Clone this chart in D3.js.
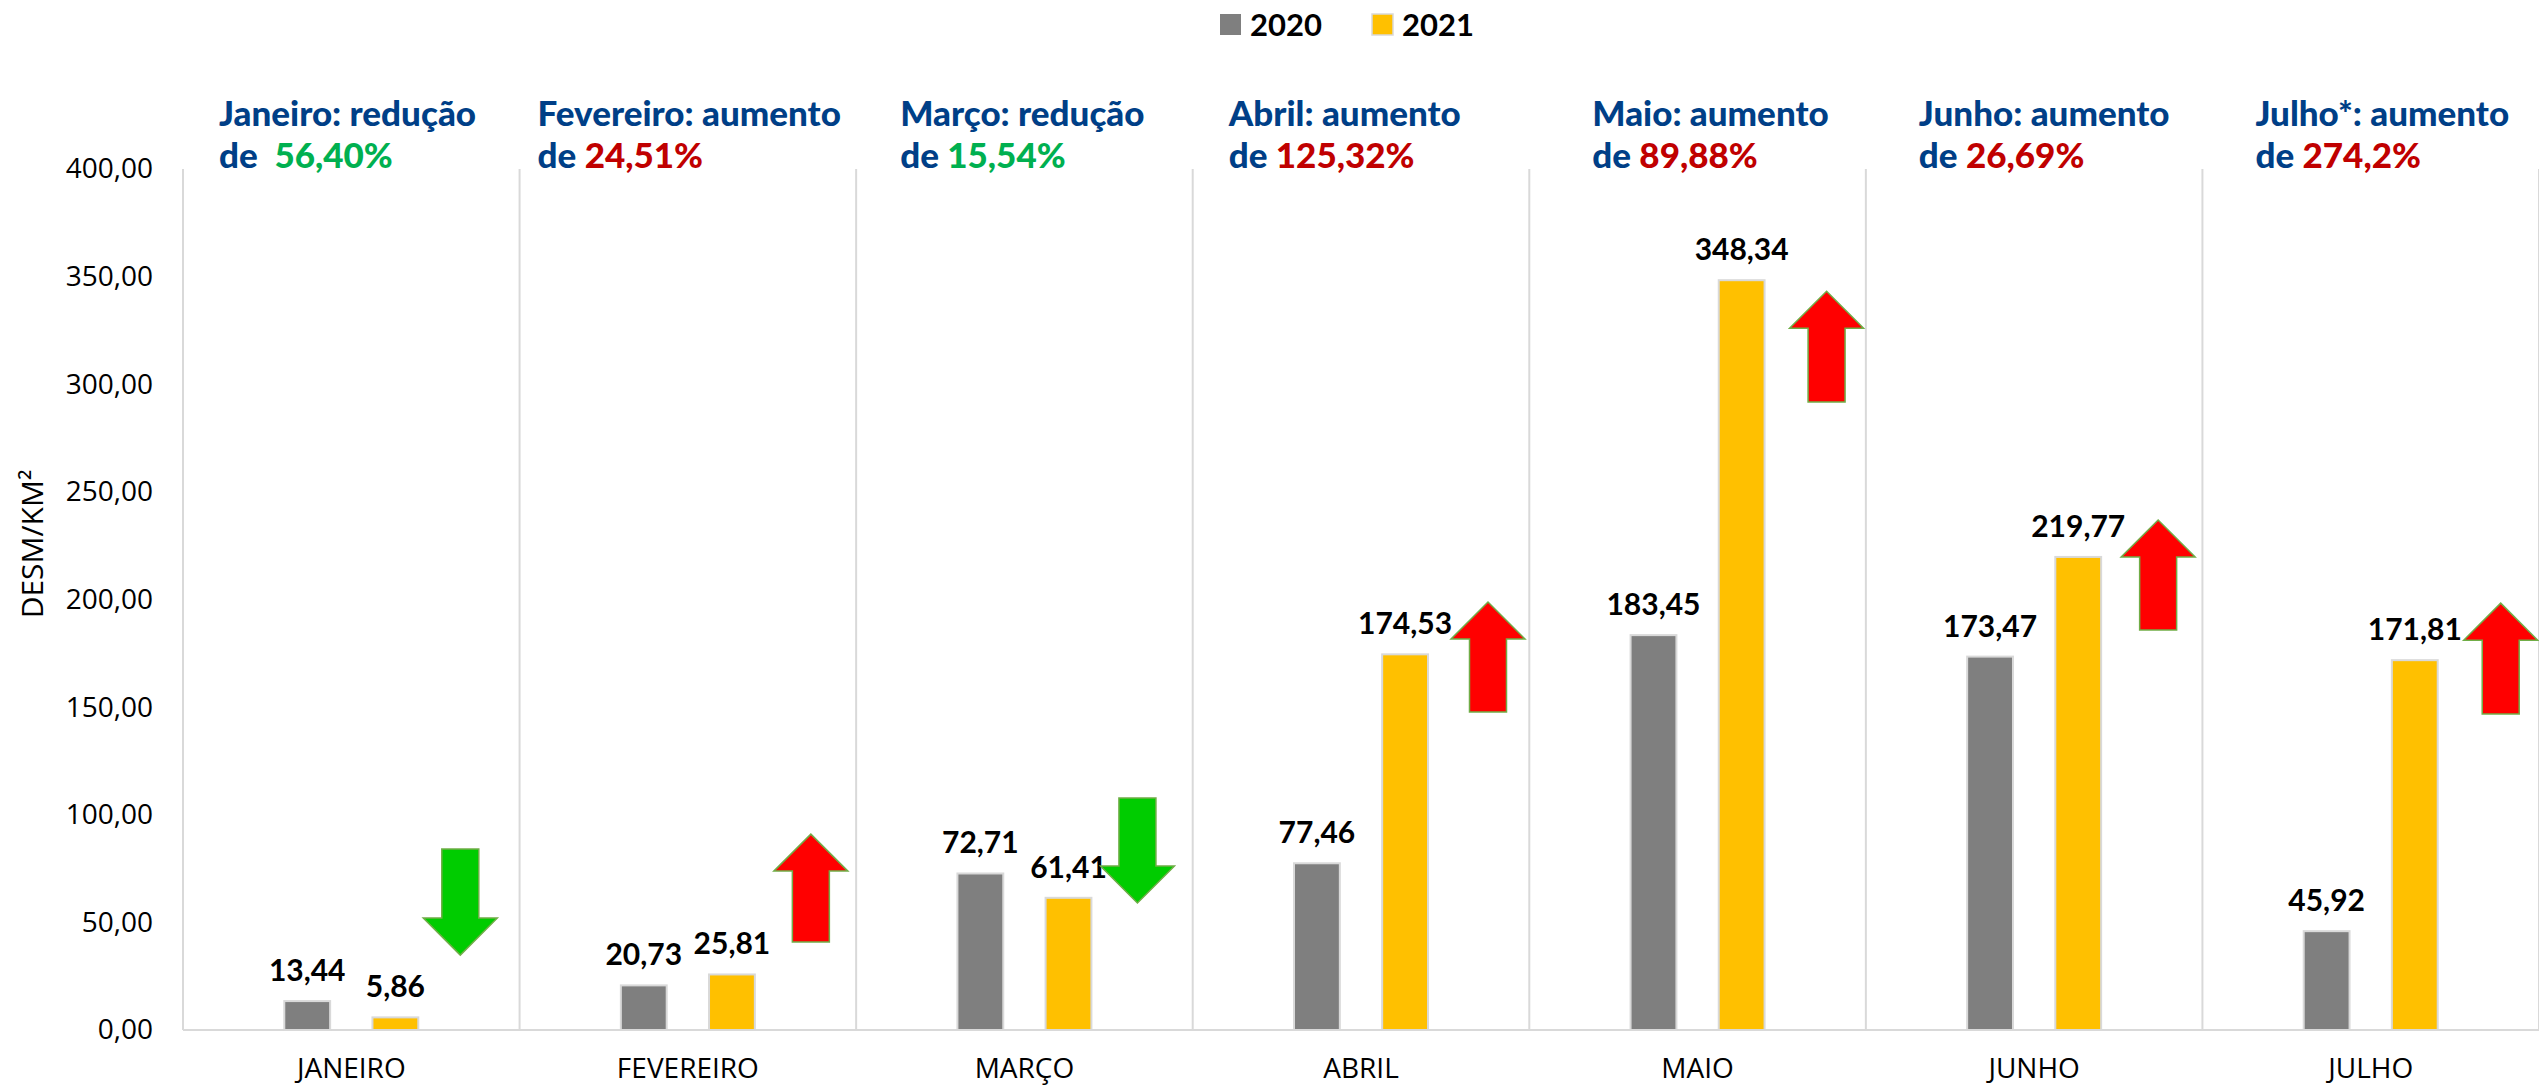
<!DOCTYPE html>
<html>
<head>
<meta charset="utf-8">
<script src="https://cdn.jsdelivr.net/npm/d3@7"></script>
<style>
  html, body { margin: 0; padding: 0; background: #fff; }
  svg { display: block; }
</style>
</head>
<body>
<div id="chart"></div>
<script>
// data
const months = ["JANEIRO", "FEVEREIRO", "MARÇO", "ABRIL", "MAIO", "JUNHO", "JULHO"];
const years = ["2020", "2021"];
const values2020 = [13.44, 20.73, 72.71, 77.46, 183.45, 173.47, 45.92];
const values2021 = [5.86, 25.81, 61.41, 174.53, 348.34, 219.77, 171.81];
const yTicks = [0, 50, 100, 150, 200, 250, 300, 350, 400];

const titleLead = ["Janeiro: redução", "Fevereiro: aumento", "Março: redução", "Abril: aumento",
                   "Maio: aumento", "Junho: aumento", "Julho*: aumento"];
const titleDe = ["de  ", "de ", "de ", "de ", "de ", "de ", "de "];
const titlePct = ["56,40%", "24,51%", "15,54%", "125,32%", "89,88%", "26,69%", "274,2%"];
const trend = ["down", "up", "down", "up", "up", "up", "up"];
// arrows, in y-axis units: tail value -> tip value
const arrowTail = [84.1, 40.9, 107.8, 147.7, 291.7, 185.8, 146.8];
const arrowTip = [34.8, 91.0, 59.0, 198.8, 343.2, 236.9, 198.3];

// layout tweaks (pixels)
const titleDx = [36, 18, 44, 36, 63, 53, 53];
const arrowDx = [109, 123, 113, 127, 129, 124, 130];

const width = 2539, height = 1086;
const margin = {top: 169, right: 0, bottom: 56, left: 183};

const colors = {"2020": "#7F7F7F", "2021": "#FFC000"};
const trendColor = {down: "#00B050", up: "#C00000"};
const arrowFill = {down: "#00CC00", up: "#FF0000"};
const blue = "#003F87";

const fmt = d3.formatLocale({decimal: ",", thousands: ".", grouping: [3], currency: ["", ""]}).format(".2f");

const svg = d3.select("#chart").append("svg")
    .attr("width", width)
    .attr("height", height);

const x = d3.scaleBand()
    .domain(months)
    .range([margin.left, width - margin.right])
    .padding(0);

const x1 = d3.scaleBand()
    .domain(years)
    .range([x.bandwidth() / 2 - 67, x.bandwidth() / 2 + 67])
    .paddingInner(0.48);

const y = d3.scaleLinear()
    .domain([0, 400])
    .range([height - margin.bottom, margin.top]);

const rows = months.map((m, i) => ({
    month: m, i,
    vals: [{year: "2020", v: values2020[i]}, {year: "2021", v: values2021[i]}]
}));

// vertical dividers
svg.append("g")
    .selectAll("line")
    .data(months.concat(["end"]))
    .join("line")
    .attr("x1", (d, i) => margin.left + i * x.bandwidth())
    .attr("x2", (d, i) => margin.left + i * x.bandwidth())
    .attr("y1", y(400))
    .attr("y2", y(0))
    .attr("stroke", "#D9D9D9")
    .attr("stroke-width", 2);

// baseline
svg.append("line")
    .attr("x1", margin.left)
    .attr("x2", width - margin.right)
    .attr("y1", y(0))
    .attr("y2", y(0))
    .attr("stroke", "#D9D9D9")
    .attr("stroke-width", 2);

// y axis
const yAxis = svg.append("g")
    .attr("transform", `translate(${margin.left},0)`)
    .call(d3.axisLeft(y).tickValues(yTicks).tickFormat(fmt).tickSize(0).tickPadding(30));
yAxis.select(".domain").remove();
yAxis.selectAll("text")
    .style("font-family", "'Open Sans', sans-serif")
    .style("font-size", "28px")
    .attr("fill", "#000");

svg.append("text")
    .attr("transform", "translate(43,544) rotate(-90)")
    .attr("text-anchor", "middle")
    .style("font-family", "'Open Sans', sans-serif")
    .style("font-size", "30px")
    .text("DESM/KM²");

// x axis
const xAxis = svg.append("g")
    .attr("transform", `translate(0,${y(0)})`)
    .call(d3.axisBottom(x).tickSize(0).tickPadding(28));
xAxis.select(".domain").remove();
xAxis.selectAll("text")
    .style("font-family", "'Open Sans', sans-serif")
    .style("font-size", "28px")
    .attr("fill", "#000");

// bars
const groups = svg.append("g")
    .selectAll("g")
    .data(rows)
    .join("g")
    .attr("transform", d => `translate(${x(d.month)},0)`);

groups.selectAll("rect")
    .data(d => d.vals)
    .join("rect")
    .attr("x", d => x1(d.year))
    .attr("y", d => y(d.v))
    .attr("width", x1.bandwidth())
    .attr("height", d => y(0) - y(d.v))
    .attr("fill", d => colors[d.year])
    .attr("stroke", "#D9D9D9")
    .attr("stroke-width", 2);

groups.selectAll("text.val")
    .data(d => d.vals)
    .join("text")
    .attr("class", "val")
    .attr("x", d => x1(d.year) + x1.bandwidth() / 2)
    .attr("y", d => y(d.v) - 20)
    .attr("text-anchor", "middle")
    .style("font-family", "Lato, sans-serif")
    .style("font-weight", 700)
    .style("font-size", "30px")
    .text(d => fmt(d.v));

// arrows
function arrowPath(cx, yTail, yTip) {
    const dir = yTip < yTail ? -1 : 1; // -1 up, 1 down
    const sw = 18.5, hw = 37, hl = 37;
    const yBase = yTip - dir * hl;
    return `M${cx - sw},${yTail} L${cx - sw},${yBase} L${cx - hw},${yBase} L${cx},${yTip} ` +
           `L${cx + hw},${yBase} L${cx + sw},${yBase} L${cx + sw},${yTail} Z`;
}

svg.append("g")
    .selectAll("path")
    .data(rows)
    .join("path")
    .attr("d", d => arrowPath(x(d.month) + x.bandwidth() / 2 + arrowDx[d.i], y(arrowTail[d.i]), y(arrowTip[d.i])))
    .attr("fill", d => arrowFill[trend[d.i]])
    .attr("stroke", "#70AD47")
    .attr("stroke-width", 1.5);

// month titles
const titles = svg.append("g")
    .selectAll("g")
    .data(rows)
    .join("g")
    .attr("transform", d => `translate(${x(d.month) + titleDx[d.i]},0)`)
    .style("font-family", "Lato, sans-serif")
    .style("font-weight", 900)
    .style("font-size", "35px");

titles.append("text")
    .attr("y", 126)
    .attr("fill", blue)
    .text(d => titleLead[d.i]);

const line2 = titles.append("text")
    .attr("y", 168)
    .attr("xml:space", "preserve")
    .style("white-space", "pre");
line2.append("tspan")
    .attr("fill", blue)
    .text(d => titleDe[d.i]);
line2.append("tspan")
    .attr("fill", d => trendColor[trend[d.i]])
    .text(d => titlePct[d.i]);

// legend
const legend = svg.append("g")
    .attr("transform", "translate(1220,0)")
    .selectAll("g")
    .data(years)
    .join("g")
    .attr("transform", (d, i) => `translate(${i * 152},0)`);
legend.append("rect")
    .attr("y", 14)
    .attr("width", 21)
    .attr("height", 21)
    .attr("fill", d => colors[d])
    .attr("stroke", d => d === "2021" ? "#D9D9D9" : "none")
    .attr("stroke-width", 1.5);
legend.append("text")
    .attr("x", 30)
    .attr("y", 36)
    .style("font-family", "Lato, sans-serif")
    .style("font-weight", 700)
    .style("font-size", "31px")
    .text(d => d);
</script>
</body>
</html>
